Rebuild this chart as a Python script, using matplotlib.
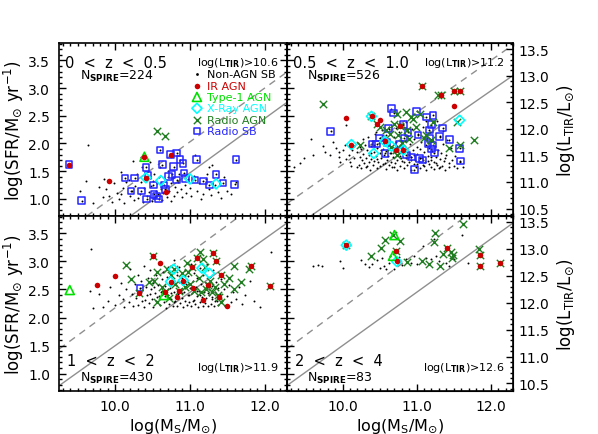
import matplotlib
matplotlib.use('Agg')
import matplotlib.pyplot as plt
from matplotlib.ticker import MultipleLocator, FormatStrFormatter

plt.rcParams['font.family'] = ['DejaVu Sans']
plt.rcParams['mathtext.fontset'] = 'dejavusans'

# ---------------- data ----------------
z_labels = ["0  <  z  <  0.5", "0.5  <  z  <  1.0", "1  <  z  <  2", "2  <  z  <  4"]
n_spire = [224, 526, 430, 83]
ltir_cut = [10.6, 11.2, 11.9, 12.6]
legend_labels = ["Non-AGN SB", "IR AGN", "Type-1 AGN", "X-Ray AGN", "Radio AGN", "Radio SB"]

# solid (main sequence) and dashed (starburst) lines: slope, value at logM=10
ms_slope = [0.98, 0.93, 0.95, 0.95]
ms_at10 = [0.49, 1.09, 1.50, 1.50]
sb_slope = [0.97, 0.94, 0.98, 0.98]
sb_at10 = [1.06, 1.62, 2.175, 2.175]

# ---- panel 1 : 0<z<0.5 ----
p1_sb = [(9.53,1.14),(9.61,1.32),(9.63,1.97),(9.70,0.92),(9.78,1.22),(9.84,1.03),(9.88,1.18),
         (9.91,1.05),(9.95,0.95),(9.98,1.28),(10.02,1.10),(10.05,1.00),(10.07,1.48),(10.07,1.09),
         (10.10,1.20),(10.12,0.93),(10.15,1.30),(10.18,1.34),(10.20,1.05),(10.22,1.15),(10.24,1.68),
         (10.25,0.98),(10.27,1.23),(10.29,1.45),(10.30,1.02),(10.33,1.09),(10.34,1.30),(10.36,1.57),
         (10.37,0.95),(10.39,1.20),(10.40,1.38),(10.42,1.06),(10.44,1.50),(10.45,1.12),(10.47,1.66),
         (10.48,1.24),(10.49,0.97),(10.50,1.32),(10.52,1.45),(10.53,1.03),(10.55,1.15),(10.56,1.28),
         (10.57,1.08),(10.58,1.40),(10.60,1.57),(10.61,1.18),(10.62,0.98),(10.64,1.10),(10.66,1.33),
         (10.68,1.22),(10.69,1.03),(10.70,1.50),(10.72,1.14),(10.74,0.97),(10.75,1.28),(10.77,1.38),
         (10.79,1.06),(10.80,1.21),(10.82,1.12),(10.84,1.30),(10.86,1.45),(10.88,1.18),(10.90,1.03),
         (10.93,1.25),(10.95,1.10),(10.98,1.35),(11.00,1.20),(11.02,1.05),(11.05,1.42),(11.07,1.79),
         (11.09,1.14),(11.12,1.28),(11.15,1.00),(11.18,1.09),(11.21,1.35),(11.23,1.45),(11.26,1.18),
         (11.28,1.07),(11.30,1.62),(11.33,1.25),(11.38,1.12),(11.42,1.02),(11.45,1.40),(11.50,1.15),
         (11.55,1.08),(11.62,1.30),(9.85,1.35),(10.35,1.75),(11.26,1.58)]
p1_ir = [(9.38,1.62),(9.91,1.32),(10.39,1.76),(10.41,1.38),(10.74,1.80),(10.68,1.13)]
p1_t1 = [(10.39,1.76)]
p1_xr = [(10.41,1.38),(10.61,1.33),(11.00,1.36),(11.35,1.27)]
p1_ragn = [(10.56,2.22),(10.67,2.14)]
p1_rsb = [(9.38,1.62),(9.55,0.97),(10.13,1.38),(10.26,1.38),(10.21,1.14),(10.41,1.57),(10.42,1.00),
          (10.51,1.25),(10.52,1.08),(10.58,1.00),(10.60,1.88),(10.63,1.62),(10.65,1.25),(10.67,1.17),
          (10.71,1.40),(10.76,1.44),(10.74,1.80),(10.78,1.58),(10.82,1.83),(10.87,1.71),(10.91,1.64),
          (10.82,1.34),(10.92,1.47),(10.94,1.37),(11.09,1.71),(11.07,1.34),(11.18,1.32),(11.26,1.25),
          (11.35,1.44),(11.44,1.29),(11.60,1.26),(11.62,1.71),(10.35,1.14),(10.44,1.42),(10.55,1.05)]

# ---- panel 2 : 0.5<z<1.0 ----
p2_sb = [(9.34,1.58),(9.43,1.65),(9.48,1.73),(9.58,2.09),(9.60,1.79),(9.73,1.95),(9.76,1.85),
         (9.83,1.79),(9.87,2.03),(9.91,1.92),(9.95,1.76),(9.96,1.67),(10.01,1.88),(10.03,1.97),
         (10.05,2.34),(10.08,1.79),(10.10,1.67),(10.13,1.88),(10.16,1.73),(10.19,1.58),
         (10.20,1.84),(10.21,2.00),(10.22,1.62),(10.23,1.76),(10.24,1.93),(10.25,1.55),(10.26,1.70),
         (10.27,2.08),(10.28,1.81),(10.29,1.64),(10.30,1.97),(10.31,1.58),(10.32,1.74),(10.33,1.88),
         (10.34,2.12),(10.35,1.67),(10.36,1.80),(10.37,1.53),(10.38,1.95),(10.39,1.72),(10.40,2.05),
         (10.41,1.61),(10.42,1.85),(10.43,1.69),(10.44,2.18),(10.45,1.77),(10.46,1.56),(10.47,1.92),
         (10.48,1.66),(10.49,2.01),(10.50,1.83),(10.51,1.59),(10.52,1.74),(10.53,2.24),(10.54,1.90),
         (10.55,1.63),(10.56,1.79),(10.57,2.07),(10.58,1.54),(10.59,1.87),(10.60,1.70),(10.61,1.98),
         (10.62,1.61),(10.63,2.30),(10.64,1.82),(10.65,1.67),(10.66,1.94),(10.67,1.57),(10.68,1.75),
         (10.69,2.11),(10.70,1.86),(10.71,1.64),(10.72,2.02),(10.73,1.71),(10.74,1.53),(10.75,1.90),
         (10.76,2.20),(10.77,1.78),(10.78,1.60),(10.79,1.96),(10.80,1.69),(10.81,2.35),(10.82,1.84),
         (10.83,1.56),(10.84,2.05),(10.85,1.73),(10.86,1.92),(10.87,1.62),(10.88,2.14),(10.89,1.80),
         (10.90,1.66),(10.91,1.99),(10.92,1.52),(10.93,1.76),(10.94,2.26),(10.95,1.88),(10.96,1.63),
         (10.97,2.08),(10.98,1.71),(10.99,1.57),(11.00,1.94),(11.01,1.81),(11.02,2.17),(11.03,1.68),
         (11.04,1.55),(11.05,1.90),(11.06,2.03),(11.07,1.74),(11.08,1.61),(11.09,2.30),(11.10,1.85),
         (11.11,1.66),(11.12,1.97),(11.13,1.53),(11.14,2.10),(11.15,1.78),(11.16,1.63),(11.17,1.92),
         (11.18,2.21),(11.19,1.70),(11.20,1.58),(11.21,1.86),(11.22,2.04),(11.23,1.67),(11.24,1.54),
         (11.25,1.95),(11.26,1.76),(11.27,2.40),(11.28,1.62),(11.29,1.89),(11.30,1.56),(11.31,2.12),
         (11.32,1.72),(11.33,1.83),(11.34,1.60),(11.35,1.99),(11.37,1.68),(11.38,1.53),(11.40,1.80),
         (11.41,2.06),(11.43,1.64),(11.44,1.57),(11.46,1.91),(11.48,1.70),(11.50,1.60),(11.52,1.77),
         (11.55,1.55),(11.58,1.66),(11.62,1.58),
         (10.25,1.90),(10.33,1.60),(10.38,1.82),(10.43,1.98),(10.47,1.72),(10.52,1.88),(10.57,1.65),
         (10.61,1.77),(10.66,1.83),(10.70,1.58),(10.74,1.95),(10.79,1.74),(10.83,1.66),(10.87,1.85),
         (10.92,1.70),(10.96,1.79),(11.00,1.63),(11.05,1.73),(11.10,1.60),(11.15,1.69),(11.20,1.75),
         (11.26,1.65),(11.32,1.58),(11.38,1.74),(10.15,1.95),(10.05,1.72),(9.95,1.85),(10.12,1.60),
         (10.58,2.15),(10.72,2.28),(10.86,2.38),(11.12,2.40),(11.35,2.22),(10.45,2.20)]
p2_ir = [(10.04,2.46),(10.12,1.98),(10.40,2.49),(10.47,2.35),(10.50,2.43),(10.57,2.04),(10.72,1.88),
         (10.77,2.31),(10.82,1.88),(11.07,3.03),(11.33,2.88),(11.50,2.94),(11.59,2.94),(11.50,2.67)]
p2_t1 = []
p2_xr = [(10.39,2.49),(10.12,1.98),(10.57,2.04),(10.42,1.82),(10.82,1.88),(11.58,2.42),(10.66,1.95)]
p2_ragn = [(9.73,2.72),(10.23,1.98),(10.39,2.49),(10.47,2.35),(10.50,2.30),(10.58,2.25),(10.64,2.18),
           (10.70,2.36),(10.73,2.54),(10.72,1.88),(10.75,2.15),(10.77,2.31),(10.80,2.00),(10.85,2.57),
           (10.87,2.24),(10.90,2.09),(10.93,2.48),(10.95,2.44),(10.99,2.30),(11.04,2.54),(11.07,3.03),
           (11.10,2.10),(11.13,2.15),(11.20,2.06),(11.29,2.87),(11.33,2.88),(11.43,1.91),(11.50,2.94),
           (11.55,2.39),(11.58,1.97),(11.59,2.94),(11.78,2.07),(10.73,1.79),(10.66,1.94),(11.22,2.39)]
p2_rsb = [(9.84,2.22),(10.40,1.99),(10.46,1.99),(10.50,2.10),(10.57,1.82),(10.62,2.27),(10.66,2.63),
          (10.69,2.55),(10.82,2.34),(10.83,2.10),(10.86,1.79),(10.93,1.76),(10.97,1.53),(11.00,2.58),
          (11.02,2.15),(11.04,1.73),(11.08,1.70),(11.13,2.48),(11.17,2.24),(11.18,2.09),(11.20,2.34),
          (11.22,2.51),(11.22,1.97),(11.24,1.83),(11.31,2.13),(11.35,2.28),(11.44,2.07),(11.58,1.91),
          (11.59,1.68),(10.60,2.02),(10.77,1.98),(10.88,2.20),(11.15,2.00),(11.20,1.90)]

# ---- panel 3 : 1<z<2 ----
p3_sb = [(9.67,3.22),(9.66,2.48),(9.70,2.17),(9.78,2.42),(9.84,2.18),(9.90,2.30),(9.93,2.55),
         (10.00,2.22),(10.05,2.40),(10.08,2.62),(10.10,2.33),(10.12,2.18),(10.15,2.50),(10.18,2.28),
         (10.20,2.86),(10.22,2.42),(10.24,2.20),(10.26,2.60),(10.28,2.35),(10.30,2.75),(10.31,2.23),
         (10.33,2.48),(10.35,2.65),(10.36,2.30),(10.38,2.92),(10.39,2.18),(10.41,2.55),(10.42,2.40),
         (10.44,2.70),(10.45,2.26),(10.46,2.85),(10.48,2.50),(10.49,2.33),(10.50,2.62),(10.51,2.19),
         (10.53,2.44),(10.54,2.76),(10.55,2.30),(10.57,2.58),(10.58,2.95),(10.59,2.38),(10.60,2.22),
         (10.62,2.68),(10.63,2.48),(10.64,2.82),(10.65,2.28),(10.67,2.56),(10.68,2.17),(10.69,2.73),
         (10.70,2.40),(10.71,2.90),(10.72,2.25),(10.73,2.52),(10.75,2.33),(10.76,2.66),(10.77,2.20),
         (10.78,2.45),(10.79,3.02),(10.80,2.30),(10.81,2.58),(10.82,2.76),(10.83,2.21),(10.84,2.42),
         (10.85,2.64),(10.86,2.90),(10.87,2.26),(10.88,2.51),(10.89,2.35),(10.90,2.70),(10.91,2.18),
         (10.92,2.45),(10.93,2.84),(10.94,2.30),(10.95,2.60),(10.96,2.22),(10.97,2.40),(10.98,2.74),
         (10.99,2.28),(11.00,2.52),(11.01,2.95),(11.02,2.20),(11.03,2.44),(11.04,2.66),(11.05,2.32),
         (11.06,2.80),(11.07,2.24),(11.08,2.55),(11.09,2.38),(11.10,2.70),(11.11,2.19),(11.12,2.47),
         (11.13,2.88),(11.14,2.28),(11.15,2.60),(11.16,2.36),(11.17,2.20),(11.18,2.75),(11.19,2.45),
         (11.20,2.26),(11.21,2.62),(11.22,2.34),(11.23,2.95),(11.24,2.21),(11.25,2.50),(11.26,2.40),
         (11.27,2.72),(11.28,2.25),(11.29,2.56),(11.30,2.33),(11.31,2.85),(11.32,2.20),(11.33,2.46),
         (11.35,2.64),(11.36,2.29),(11.37,2.53),(11.38,2.22),(11.40,2.42),(11.42,2.68),(11.43,2.30),
         (11.45,2.50),(11.47,2.20),(11.49,2.38),(11.52,2.58),(11.55,2.27),(11.58,2.45),(11.62,2.33),
         (11.66,2.55),(11.70,2.24),(11.74,2.40),(11.80,2.65),(11.86,2.30),(11.94,2.18),(12.08,3.16),
         (10.46,2.42),(10.52,2.55),(10.56,2.36),(10.61,2.46),(10.66,2.38),(10.71,2.50),(10.74,2.43),
         (10.79,2.28),(10.84,2.34),(10.89,2.44),(10.94,2.52),(10.99,2.40),(11.04,2.30),(11.09,2.47),
         (11.14,2.40),(11.19,2.32),(11.24,2.44),(11.29,2.36),(11.34,2.30),(10.40,2.32),(10.35,2.45)]
p3_ir = [(9.76,2.58),(9.99,2.74),(10.32,2.44),(10.51,3.10),(10.60,2.98),(10.74,2.64),(10.67,2.46),
         (10.83,2.36),(10.91,2.66),(10.86,2.48),(11.03,2.90),(11.09,3.07),(11.04,2.52),(11.17,2.31),
         (11.24,2.58),(11.31,3.15),(11.35,3.00),(11.41,2.75),(11.39,2.36),(11.50,2.21),(11.82,2.91),
         (12.07,2.57)]
p3_t1 = [(9.39,2.49),(10.65,2.40)]
p3_xr = [(10.74,2.64),(10.91,2.66),(11.16,2.88),(11.26,2.79),(10.78,2.86)]
p3_ragn = [(10.14,2.94),(10.21,2.69),(10.32,2.44),(10.51,3.10),(10.52,2.66),(10.56,2.81),(10.56,2.27),
           (10.62,2.55),(10.67,2.46),(10.69,2.87),(10.74,2.75),(10.78,2.87),(10.80,2.60),(10.86,2.48),
           (10.90,2.80),(10.96,2.98),(10.98,2.82),(11.00,2.60),(11.03,2.90),(11.05,2.48),(11.09,3.07),
           (11.12,2.70),(11.14,3.16),(11.18,3.05),(11.20,2.90),(11.22,2.50),(11.24,2.58),(11.27,2.65),
           (11.29,2.45),(11.31,3.15),(11.33,2.55),(11.35,3.00),(11.37,2.40),(11.39,2.36),(11.41,2.75),
           (11.41,2.27),(11.46,2.60),(11.52,2.70),(11.59,2.92),(11.59,2.51),(11.68,2.63),(11.79,2.86),
           (11.82,2.91),(12.07,2.57),(10.45,2.63),(10.72,2.35),(10.93,2.55),(11.15,2.45)]
p3_rsb = [(10.33,2.53)]

# ---- panel 4 : 2<z<4 ----
p4_sb = [(9.60,2.91),(9.67,2.93),(9.72,2.91),(9.96,3.01),(10.01,2.88),(10.25,3.02),(10.30,2.96),
         (10.46,3.03),(10.50,2.88),(10.56,2.92),(10.59,2.87),(10.64,3.10),(10.70,2.87),(10.86,3.04),
         (10.93,2.98),(10.97,3.10),(11.08,3.28),(11.13,3.07),(11.20,3.04),(11.23,3.40),(11.26,3.10),
         (11.40,2.98),(11.44,2.92),(11.61,3.48),(11.69,2.97),(10.40,2.95),(10.62,2.98),(10.80,2.93),
         (11.00,2.96),(10.53,3.06),(10.76,3.08),(11.30,3.00),(10.36,2.90),(11.50,3.05)]
p4_ir = [(10.05,3.29),(10.72,3.18),(10.73,3.00),(11.41,3.24),(11.85,3.11),(11.85,2.92),(12.13,2.97)]
p4_t1 = [(10.70,3.47),(10.68,3.10)]
p4_xr = [(10.05,3.29),(10.73,3.00)]
p4_ragn = [(10.05,3.29),(10.39,3.10),(10.52,3.24),(10.57,3.38),(10.68,3.47),(10.78,3.36),(10.72,3.18),
           (10.87,2.99),(11.07,3.01),(11.17,2.95),(11.25,3.51),(11.24,3.34),(11.31,2.91),(11.35,3.13),
           (11.41,3.24),(11.47,3.16),(11.48,3.07),(11.49,3.11),(11.62,3.67),(11.84,3.22),(11.85,3.11),
           (11.85,2.92),(12.13,2.97)]
p4_rsb = []

panels = [
    (p1_sb, p1_ir, p1_t1, p1_xr, p1_ragn, p1_rsb),
    (p2_sb, p2_ir, p2_t1, p2_xr, p2_ragn, p2_rsb),
    (p3_sb, p3_ir, p3_t1, p3_xr, p3_ragn, p3_rsb),
    (p4_sb, p4_ir, p4_t1, p4_xr, p4_ragn, p4_rsb),
]

C_IR = '#cc0000'
C_T1 = '#00e000'
C_XR = '#00ffff'
C_RA = '#1e7d1e'
C_RS = '#2626ff'
LINE_C = '#8f8f8f'

# ---------------- figure ----------------
W, H = 598, 435
fig = plt.figure(figsize=(W/100, H/100), dpi=100)

def rect(x0, y0, x1, y1):
    return [x0/W, 1-y1/H, (x1-x0)/W, (y1-y0)/H]

rects = [rect(59.3, 44.3, 287, 217), rect(287, 44.3, 513, 217),
         rect(59.3, 217, 287, 392), rect(287, 217, 513, 392)]

XLIM = (9.25, 12.3)
YLIM = (0.69, 3.81)
YLIM_R = (10.36, 13.61)

def xy(lst):
    return [p[0] for p in lst], [p[1] for p in lst]

for i, r in enumerate(rects):
    ax = fig.add_axes(r)
    sb, ir, t1, xr, ragn, rsb = panels[i]
    ax.set_xlim(*XLIM)
    ax.set_ylim(*YLIM)
    # lines
    ax.axline((10.0, ms_at10[i]), slope=ms_slope[i], color=LINE_C, lw=1.0, zorder=0.5)
    ax.axline((10.0, sb_at10[i]), slope=sb_slope[i], color=LINE_C, lw=1.0,
              linestyle=(0, (5, 4)), zorder=0.5)
    h_sb = ax.scatter(*xy(sb), s=2.0, c='k', marker='o', linewidths=0, zorder=1)
    if rsb:
        ax.scatter(*xy(rsb), s=2.0, c='k', marker='o', linewidths=0, zorder=1)
    h_rs = ax.scatter(*xy(rsb) if rsb else ([], []), s=22, marker='s', facecolors='none',
                      edgecolors=C_RS, linewidths=1.1, zorder=2)
    h_ra = ax.scatter(*xy(ragn) if ragn else ([], []), s=28, marker='x', c=C_RA,
                      linewidths=1.0, zorder=3)
    h_xr = ax.scatter(*xy(xr) if xr else ([], []), s=26, marker='D', facecolors='none',
                      edgecolors=C_XR, linewidths=1.2, zorder=4)
    h_t1 = ax.scatter(*xy(t1) if t1 else ([], []), s=42, marker='^', facecolors='none',
                      edgecolors=C_T1, linewidths=1.2, zorder=5)
    h_ir = ax.scatter(*xy(ir) if ir else ([], []), s=16, marker='o', c=C_IR,
                      linewidths=0, zorder=6)

    ax.xaxis.set_major_locator(MultipleLocator(1.0))
    ax.xaxis.set_minor_locator(MultipleLocator(0.1))
    ax.yaxis.set_major_locator(MultipleLocator(0.5))
    ax.yaxis.set_minor_locator(MultipleLocator(0.1))
    ax.xaxis.set_major_formatter(FormatStrFormatter('%.1f'))
    ax.yaxis.set_major_formatter(FormatStrFormatter('%.1f'))
    right_panel = i in (1, 3)
    bottom_panel = i in (2, 3)
    ax.tick_params(which='both', direction='in', top=True, right=not right_panel,
                   labelleft=not right_panel, labelbottom=bottom_panel,
                   width=1.0, labelsize=10)
    ax.tick_params(which='major', length=5)
    ax.tick_params(which='minor', length=2.5)
    ax.tick_params(axis='y', pad=6.5)
    ax.tick_params(axis='x', pad=6.0)
    for s in ax.spines.values():
        s.set_linewidth(1.2)

    if right_panel:
        tw = ax.twinx()
        tw.set_ylim(*YLIM_R)
        tw.yaxis.set_major_locator(MultipleLocator(0.5))
        tw.yaxis.set_minor_locator(MultipleLocator(0.1))
        tw.yaxis.set_major_formatter(FormatStrFormatter('%.1f'))
        tw.tick_params(which='both', direction='in', width=1.0, labelsize=10, pad=4)
        tw.tick_params(which='major', length=5)
        tw.tick_params(which='minor', length=2.5)

    # texts
    if bottom_panel:
        ax.text(0.035, 0.215, z_labels[i], transform=ax.transAxes, fontsize=10.5,
                va='top', ha='left')
        ax.text(0.09, 0.12, r'N$_{\mathbf{SPIRE}}$=%d' % n_spire[i], transform=ax.transAxes,
                fontsize=9, va='top', ha='left')
        ax.text(0.965, 0.175, r'log(L$_{\mathbf{TIR}}$)>%.1f' % ltir_cut[i], transform=ax.transAxes,
                fontsize=8, va='top', ha='right')
    else:
        ax.text(0.025, 0.935, z_labels[i], transform=ax.transAxes, fontsize=10.5,
                va='top', ha='left')
        ax.text(0.09, 0.855, r'N$_{\mathbf{SPIRE}}$=%d' % n_spire[i], transform=ax.transAxes,
                fontsize=9, va='top', ha='left')
        ax.text(0.965, 0.935, r'log(L$_{\mathbf{TIR}}$)>%.1f' % ltir_cut[i], transform=ax.transAxes,
                fontsize=8, va='top', ha='right')

    if i == 0:
        leg = ax.legend([h_sb, h_ir, h_t1, h_xr, h_ra, h_rs], legend_labels,
                        loc='upper left', bbox_to_anchor=(0.585, 0.85), frameon=False,
                        fontsize=8, handlelength=0.8, handletextpad=0.5,
                        labelspacing=0.12, borderaxespad=0, borderpad=0,
                        markerscale=1.0,
                        labelcolor=['k', C_IR, C_T1, C_XR, C_RA, C_RS])
        leg.legend_handles[0].set_sizes([4])

# axis labels
for yc in (130.5, 304.5):
    fig.text(14/W, 1-yc/H, r'log(SFR/M$_{\odot}$ yr$^{-1}$)', rotation=90,
             ha='center', va='center', fontsize=12)
    fig.text(566/W, 1-yc/H, r'log(L$_{\mathrm{TIR}}$/L$_{\odot}$)', rotation=90,
             ha='center', va='center', fontsize=12)
for xc in (173, 400):
    fig.text(xc/W, 1-417/H, r'log(M$_{\mathrm{S}}$/M$_{\odot}$)', ha='center', va='top',
             fontsize=11.5)

fig.savefig('out.png', dpi=100)
